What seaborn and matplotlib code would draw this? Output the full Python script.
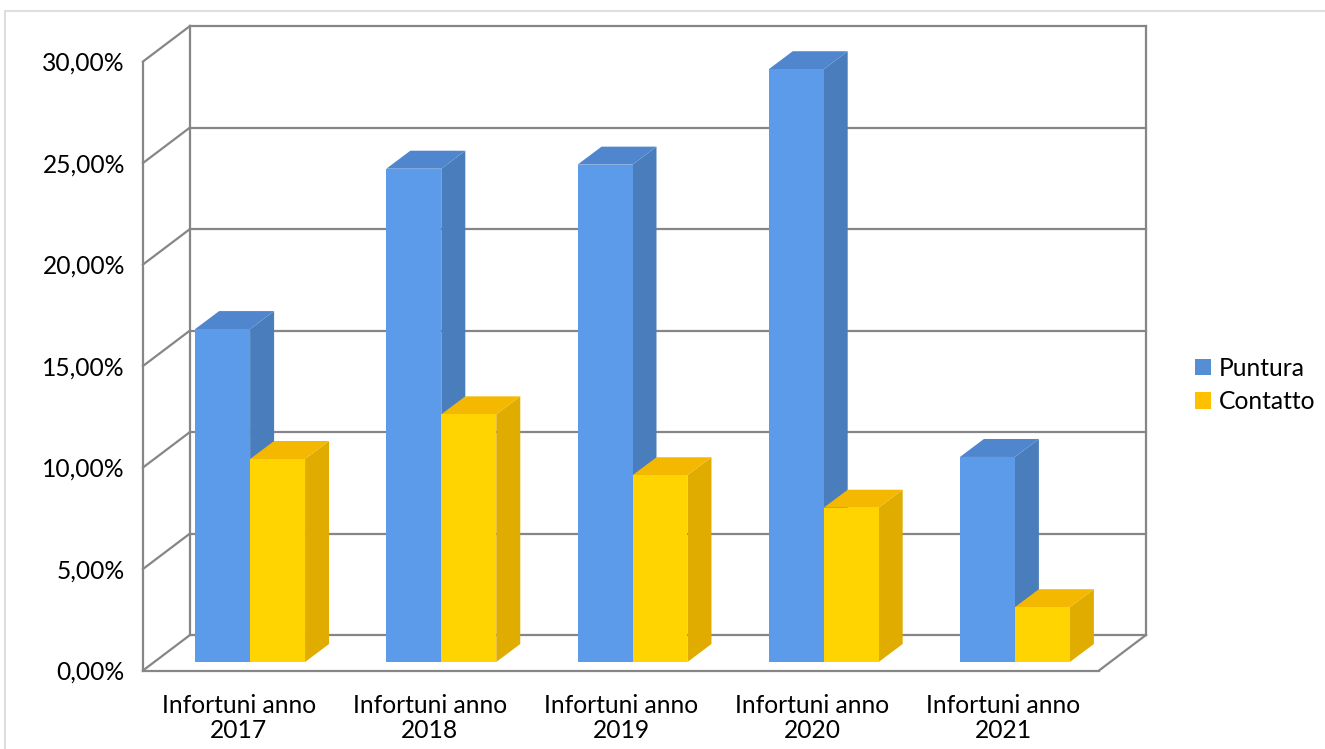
import matplotlib
matplotlib.use("Agg")
import matplotlib.pyplot as plt
import matplotlib.transforms as mtrans
from matplotlib.lines import Line2D
from matplotlib.patches import Patch, Polygon
from matplotlib.ticker import FuncFormatter
import pandas as pd
import seaborn as sns

categories = ["Infortuni anno\n2017", "Infortuni anno\n2018", "Infortuni anno\n2019",
              "Infortuni anno\n2020", "Infortuni anno\n2021"]
puntura = [16.4, 24.3, 24.5, 29.2, 10.1]
contatto = [10.0, 12.2, 9.2, 7.6, 2.7]
series_names = ["Puntura", "Contatto"]
y_ticks = [0, 5, 10, 15, 20, 25, 30]

front_colors = ["#5B9BEA", "#FFD400"]
side_colors = ["#4A7DBC", "#E0AC00"]
top_colors = ["#4F86CE", "#F5B800"]
legend_colors = ["#558ED5", "#FFC000"]
GRID = "#868686"

sns.set_theme(style="white")
plt.rcParams["font.family"] = ["Lato", "DejaVu Sans"]

W, H = 1325, 749
fig = plt.figure(figsize=(W / 100, H / 100), dpi=100, facecolor="white")
ax = fig.add_axes([143 / W, (H - 670.5) / H, 956 / W, 609 / H])

df = pd.DataFrame({
    "categoria": categories * 2,
    "serie": [series_names[0]] * 5 + [series_names[1]] * 5,
    "valore": puntura + contatto,
})
sns.barplot(data=df, x="categoria", y="valore", hue="serie", hue_order=series_names,
            palette=front_colors, saturation=1, width=0.575, gap=0, dodge=True,
            legend=False, ax=ax)
ax.set_xlim(-0.5, 4.5)
ax.set_ylim(0, 30)
ax.set_xlabel("")
ax.set_ylabel("")
for s in ax.spines.values():
    s.set_visible(False)
ax.patch.set_alpha(0)

# 3-D projection, pixel offsets
WALL = (47, 35.5)
PLANE = (11.5, 8.5)
DEPTH = (24, 18)
px = mtrans.IdentityTransform()


def shifted(dx, dy):
    return ax.transData + mtrans.Affine2D().translate(dx, dy)


front = ax.transData
back = shifted(*WALL)


def wall_line(p, q):
    ax.add_line(Line2D([p[0], q[0]], [p[1], q[1]], color=GRID, lw=1.6, transform=px,
                       clip_on=False, zorder=1, solid_capstyle="projecting"))


x0, x1 = ax.get_xlim()
for v in y_ticks:
    f = front.transform((x0, v))
    b = back.transform((x0, v))
    e = back.transform((x1, v))
    wall_line(f, b)
    wall_line(b, e)
wall_line(front.transform((x0, 0)), front.transform((x0, 30)))
wall_line(back.transform((x0, 0)), back.transform((x0, 30)))
wall_line(back.transform((x1, 0)), back.transform((x1, 30)))
wall_line(front.transform((x0, 0)), front.transform((x1, 0)))
wall_line(front.transform((x1, 0)), back.transform((x1, 0)))

# Bars: front faces from seaborn, sides and tops projected from the same rectangles
bar_tr = shifted(*PLANE)
for i, cont in enumerate(ax.containers):
    z = 3 + i
    for patch in cont:
        patch.set_transform(bar_tr)
        patch.set_clip_on(False)
        patch.set_zorder(z + 0.5)
        patch.set_edgecolor("none")
        xa, xb = patch.get_x(), patch.get_x() + patch.get_width()
        top = patch.get_height()
        tl = bar_tr.transform((xa, top))
        tr = bar_tr.transform((xb, top))
        br = bar_tr.transform((xb, 0))
        d = DEPTH
        ax.add_patch(Polygon([tr, br, (br[0] + d[0], br[1] + d[1]), (tr[0] + d[0], tr[1] + d[1])],
                             closed=True, fc=side_colors[i], ec="none", transform=px,
                             clip_on=False, zorder=z))
        ax.add_patch(Polygon([tl, tr, (tr[0] + d[0], tr[1] + d[1]), (tl[0] + d[0], tl[1] + d[1])],
                             closed=True, fc=top_colors[i], ec="none", transform=px,
                             clip_on=False, zorder=z))

FS = 17.7
ax.set_yticks(y_ticks)
ax.yaxis.set_major_formatter(FuncFormatter(lambda v, _: f"{v:.2f}".replace(".", ",") + "%"))
ax.tick_params(axis="y", length=0, pad=13, labelsize=FS, labelcolor="black")
ax.tick_params(axis="x", length=0, pad=17, labelsize=FS, labelcolor="black")
for t in ax.get_xticklabels():
    t.set_linespacing(1.08)

handles = [Patch(fc=c, ec="none") for c in legend_colors]
ax.legend(handles, series_names, frameon=False, fontsize=FS, loc="center left",
          bbox_to_anchor=(1195 / W, (H - 385) / H), bbox_transform=fig.transFigure,
          handlelength=0.64, handleheight=0.64, handletextpad=0.33, labelspacing=0.42,
          borderpad=0, borderaxespad=0, labelcolor="black")

# Chart area border, visible on the top and left edges
for xs, ys in [((5 / W, 1), (1 - 10.5 / H, 1 - 10.5 / H)), ((5 / W, 5 / W), (0, 1 - 10.5 / H))]:
    fig.add_artist(Line2D(xs, ys, color="#DEDEDE", lw=1.5, transform=fig.transFigure))

fig.savefig("out.png", dpi=100, facecolor="white")
